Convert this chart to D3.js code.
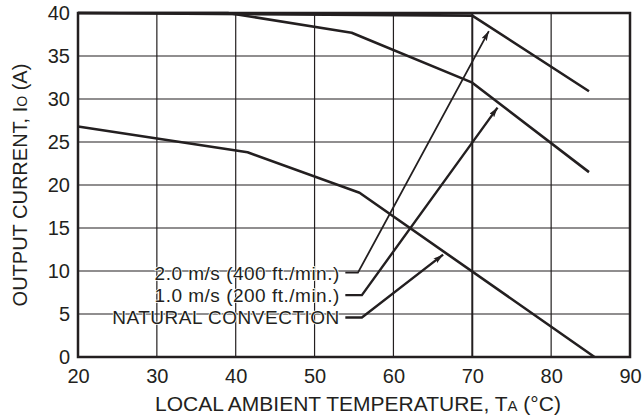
<!DOCTYPE html>
<html>
<head>
<meta charset="utf-8">
<script src="https://cdn.jsdelivr.net/npm/d3@7"></script>
<style>
  body { margin: 0; background: #fff; }
  text { font-family: "Liberation Sans", Arial, sans-serif; fill: #231f20; }
</style>
</head>
<body>
<script>
// tick values
var tempTicks = [20, 30, 40, 50, 60, 70, 80, 90];
var currentTicks = [0, 5, 10, 15, 20, 25, 30, 35, 40];

// derating curves (temperature in C, current in A)
var natTemp = [20, 41.5, 55.7, 85.5];
var natCurrent = [26.8, 23.8, 19.1, 0];
var oneTemp = [20, 39, 54.7, 70, 84.8];
var oneCurrent = [40, 40, 37.7, 31.9, 21.5];
var twoTemp = [20, 70, 84.8];
var twoCurrent = [40, 39.7, 30.9];

// callout labels and their leader lines
var labelNames = ["2.0 m/s (400 ft./min.)", "1.0 m/s (200 ft./min.)", "NATURAL CONVECTION"];
var labelLevel = [9.8, 7.2, 4.6];
var leaderKnee = [55.5, 56.0, 56.0];
var arrowTipTemp = [72.1, 73.2, 66.3];
var arrowTipCurrent = [37.9, 29.0, 11.9];

var width = 642, height = 417;
var margin = {top: 13, right: 12, bottom: 60, left: 78};

var svg = d3.select("body").append("svg")
  .attr("width", width)
  .attr("height", height);

var x = d3.scaleLinear().domain([20, 90]).range([margin.left, width - margin.right]);
var y = d3.scaleLinear().domain([0, 40]).range([height - margin.bottom, margin.top]);

// grid
svg.append("g").selectAll("line").data(tempTicks).enter().append("line")
  .attr("x1", function(d){ return x(d); }).attr("x2", function(d){ return x(d); })
  .attr("y1", y(0)).attr("y2", y(40))
  .attr("stroke", "#231f20")
  .attr("stroke-width", function(d){ return d == 70 ? 2 : 1.2; });
svg.append("g").selectAll("line").data(currentTicks).enter().append("line")
  .attr("x1", x(20)).attr("x2", x(90))
  .attr("y1", function(d){ return y(d); }).attr("y2", function(d){ return y(d); })
  .attr("stroke", "#231f20").attr("stroke-width", 1.2);

// frame
svg.append("rect")
  .attr("x", x(20)).attr("y", y(40))
  .attr("width", x(90) - x(20)).attr("height", y(0) - y(40))
  .attr("fill", "none").attr("stroke", "#231f20").attr("stroke-width", 2.5);

// axes labels using d3 axes, lines hidden
var xAxis = svg.append("g")
  .attr("transform", "translate(0," + y(0) + ")")
  .call(d3.axisBottom(x).tickValues(tempTicks).tickSize(0).tickPadding(12));
var yAxis = svg.append("g")
  .attr("transform", "translate(" + x(20) + ",0)")
  .call(d3.axisLeft(y).tickValues(currentTicks).tickSize(0).tickPadding(8));
[xAxis, yAxis].forEach(function(a){
  a.select(".domain").remove();
  a.selectAll("text").attr("font-size", 20).attr("font-family", "Liberation Sans, Arial, sans-serif").attr("fill", "#231f20");
});
xAxis.selectAll("text").attr("dy", "0.72em");

// curves
var line = d3.line().x(function(d){ return x(d[0]); }).y(function(d){ return y(d[1]); });
function pairs(a, b) { return a.map(function(v, i){ return [v, b[i]]; }); }
[[natTemp, natCurrent], [oneTemp, oneCurrent], [twoTemp, twoCurrent]].forEach(function(c){
  svg.append("path")
    .attr("d", line(pairs(c[0], c[1])))
    .attr("fill", "none").attr("stroke", "#231f20")
    .attr("stroke-width", 2.6).attr("stroke-linejoin", "round");
});

// arrow head
svg.append("defs").append("marker")
  .attr("id", "arr").attr("viewBox", "0 0 10 6")
  .attr("refX", 10).attr("refY", 3)
  .attr("markerWidth", 10).attr("markerHeight", 6)
  .attr("markerUnits", "userSpaceOnUse")
  .attr("orient", "auto")
  .append("path").attr("d", "M0,0L10,3L0,6L2,3Z").attr("fill", "#231f20");

// callouts
labelNames.forEach(function(name, i){
  svg.append("text")
    .attr("x", x(53.2)).attr("y", y(labelLevel[i]))
    .attr("dy", "0.36em")
    .attr("text-anchor", "end")
    .attr("font-size", 19).attr("letter-spacing", 0.5)
    .attr("stroke", "#fff").attr("stroke-width", 1.5).attr("paint-order", "stroke")
    .text(name);
  svg.append("path")
    .attr("d", line([[53.9, labelLevel[i]], [leaderKnee[i], labelLevel[i]], [arrowTipTemp[i], arrowTipCurrent[i]]]))
    .attr("fill", "none").attr("stroke", "#231f20")
    .attr("stroke-width", i == 0 ? 1.8 : 2.4)
    .attr("marker-end", "url(#arr)");
});

// axis titles
var xt = svg.append("text")
  .attr("x", 358).attr("y", 411)
  .attr("text-anchor", "middle")
  .attr("font-size", 21);
xt.append("tspan").text("LOCAL AMBIENT TEMPERATURE, T");
xt.append("tspan").attr("font-size", 15).text("A");
xt.append("tspan").text(" (\u00b0C)");

var yt = svg.append("text")
  .attr("transform", "translate(27,185) rotate(-90)")
  .attr("text-anchor", "middle")
  .attr("font-size", 20);
yt.append("tspan").text("OUTPUT CURRENT, I");
yt.append("tspan").attr("font-size", 14).text("O");
yt.append("tspan").text(" (A)");
</script>
</body>
</html>
